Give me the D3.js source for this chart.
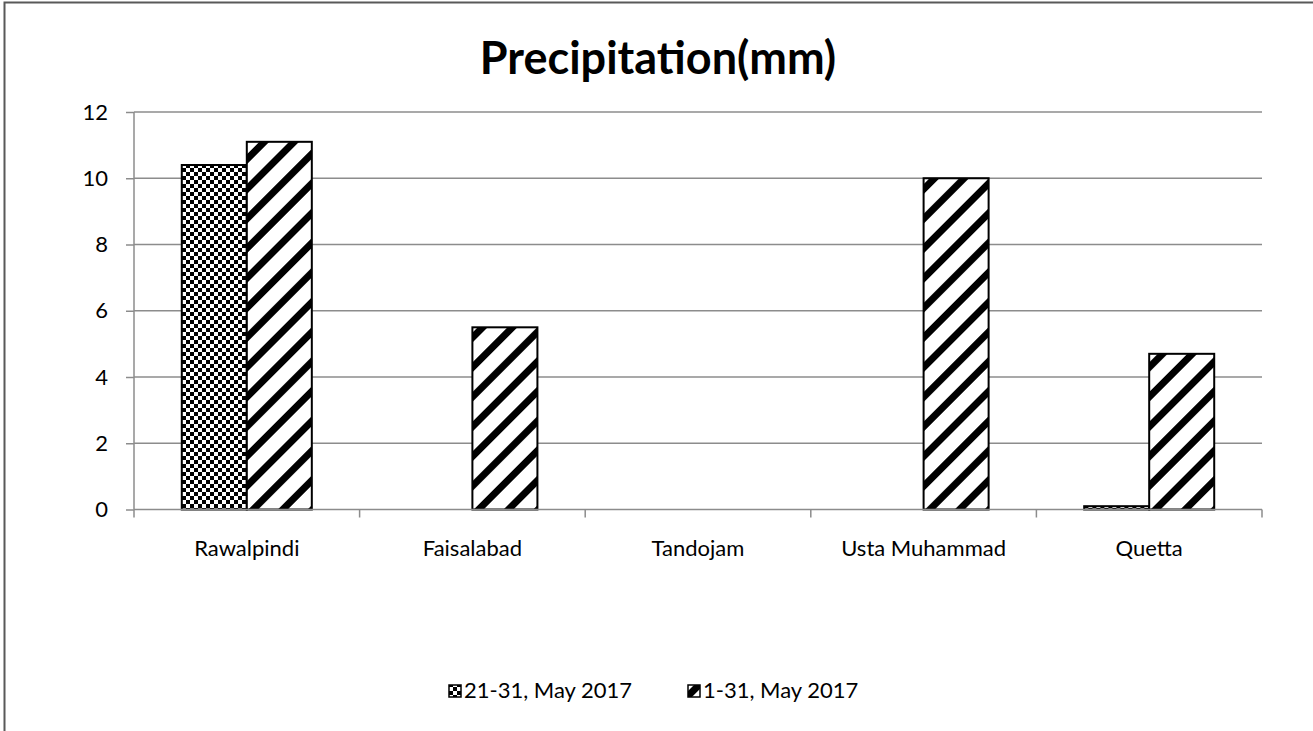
<!DOCTYPE html>
<html>
<head>
<meta charset="utf-8">
<script src="https://cdn.jsdelivr.net/npm/d3@7"></script>
<style>
  body { margin: 0; background: #fff; }
  svg { display: block; font-family: Lato, "Open Sans", sans-serif; }
</style>
</head>
<body>
<svg id="chart"></svg>
<script>
const categories = ["Rawalpindi", "Faisalabad", "Tandojam", "Usta Muhammad", "Quetta"]
const seriesNames = ["21-31, May 2017", "1-31, May 2017"]
const may21to31 = [10.4, 0, 0, 0, 0.1]
const may1to31 = [11.1, 5.5, 0, 10.0, 4.7]
const yTicks = [0, 2, 4, 6, 8, 10, 12]

let width = 1313
let height = 731
let plotLeft = 134
let plotRight = 1262
let plotTop = 112
let plotBottom = 509.5

let svg = d3.select("#chart")
    .attr("width", width)
    .attr("height", height)

// patterns
let defs = svg.append("defs")

let checker = defs.append("pattern")
    .attr("id", "checker")
    .attr("patternUnits", "userSpaceOnUse")
    .attr("width", 8)
    .attr("height", 8)
checker.append("rect").attr("width", 8).attr("height", 8).attr("fill", "#fff")
checker.append("rect").attr("width", 4).attr("height", 4).attr("fill", "#000")
checker.append("rect").attr("x", 4).attr("y", 4).attr("width", 4).attr("height", 4).attr("fill", "#000")

let stripes = defs.append("pattern")
    .attr("id", "stripes")
    .attr("patternUnits", "userSpaceOnUse")
    .attr("width", 21)
    .attr("height", 21)
    .attr("patternTransform", "rotate(45)")
stripes.append("rect").attr("width", 21).attr("height", 21).attr("fill", "#fff")
stripes.append("rect").attr("width", 7).attr("height", 21).attr("fill", "#000")

const fills = ["url(#checker)", "url(#stripes)"]

// outer border
svg.append("rect")
    .attr("x", 4.5)
    .attr("y", 2.5)
    .attr("width", width + 20)
    .attr("height", height + 20)
    .attr("fill", "none")
    .attr("stroke", "#595959")
    .attr("stroke-width", 2)

// title
svg.append("text")
    .attr("x", 658)
    .attr("y", 74)
    .attr("text-anchor", "middle")
    .attr("font-size", 45)
    .attr("font-weight", "bold")
    .text("Precipitation(mm)")

let yScale = d3.scaleLinear().domain([0, 12]).range([plotBottom, plotTop])
let xScale = d3.scaleBand().domain(categories).range([plotLeft, plotRight])
let xSub = d3.scaleBand().domain([0, 1]).range([0, xScale.bandwidth()]).paddingOuter(0.735)

// gridlines
svg.append("g")
    .selectAll("line")
    .data(yTicks.filter(d => d > 0))
    .enter()
    .append("line")
    .attr("x1", plotLeft)
    .attr("x2", plotRight)
    .attr("y1", d => yScale(d))
    .attr("y2", d => yScale(d))
    .attr("stroke", "#8c8c8c")
    .attr("stroke-width", 1.5)

// y axis
let yAxis = d3.axisLeft(yScale).tickValues(yTicks).tickSize(8).tickPadding(18).tickFormat(d3.format("d"))
let gy = svg.append("g")
    .attr("transform", "translate(" + plotLeft + ",0)")
    .call(yAxis)
gy.selectAll("line, path").attr("stroke", "#8c8c8c").attr("stroke-width", 1.5)
gy.select(".domain").attr("d", "M0," + plotTop + "V" + plotBottom)
gy.selectAll("text").attr("font-size", 22).attr("font-family", "Lato, sans-serif").attr("fill", "#000")

// bars
let rows = categories.map((c, i) => ({ cat: c, vals: [may21to31[i], may1to31[i]] }))

svg.append("g")
    .selectAll("g")
    .data(rows)
    .enter()
    .append("g")
    .attr("transform", d => "translate(" + xScale(d.cat) + ",0)")
    .selectAll("rect")
    .data(d => d.vals.map((v, j) => ({ v: v, j: j })).filter(d => d.v > 0))
    .enter()
    .append("rect")
    .attr("x", d => xSub(d.j))
    .attr("width", xSub.bandwidth())
    .attr("y", d => yScale(d.v))
    .attr("height", d => plotBottom - yScale(d.v))
    .attr("fill", d => fills[d.j])
    .attr("stroke", "#000")
    .attr("stroke-width", 2)

// x axis
let gx = svg.append("g")
    .attr("transform", "translate(0," + plotBottom + ")")
gx.append("line")
    .attr("x1", plotLeft)
    .attr("x2", plotRight)
    .attr("stroke", "#8c8c8c")
    .attr("stroke-width", 1.5)
gx.selectAll(".tick")
    .data(categories.concat([null]))
    .enter()
    .append("line")
    .attr("x1", (d, i) => i < categories.length ? xScale(d) : plotRight)
    .attr("x2", (d, i) => i < categories.length ? xScale(d) : plotRight)
    .attr("y1", 0)
    .attr("y2", 8)
    .attr("stroke", "#8c8c8c")
    .attr("stroke-width", 1.5)
gx.selectAll("text")
    .data(categories)
    .enter()
    .append("text")
    .attr("x", d => xScale(d) + xScale.bandwidth() / 2)
    .attr("y", 46)
    .attr("text-anchor", "middle")
    .attr("font-size", 22)
    .text(d => d)

// legend
let legendX = [449, 688]
let legend = svg.append("g")
    .selectAll("g")
    .data(seriesNames)
    .enter()
    .append("g")
    .attr("transform", (d, i) => "translate(" + legendX[i] + ",691)")
legend.append("rect")
    .attr("x", 0)
    .attr("y", -6)
    .attr("width", 12)
    .attr("height", 12)
    .attr("fill", (d, i) => fills[i])
    .attr("stroke", "#000")
    .attr("stroke-width", 1.5)
legend.append("text")
    .attr("x", 15)
    .attr("y", 7)
    .attr("font-size", 22)
    .text(d => d)
</script>
</body>
</html>
